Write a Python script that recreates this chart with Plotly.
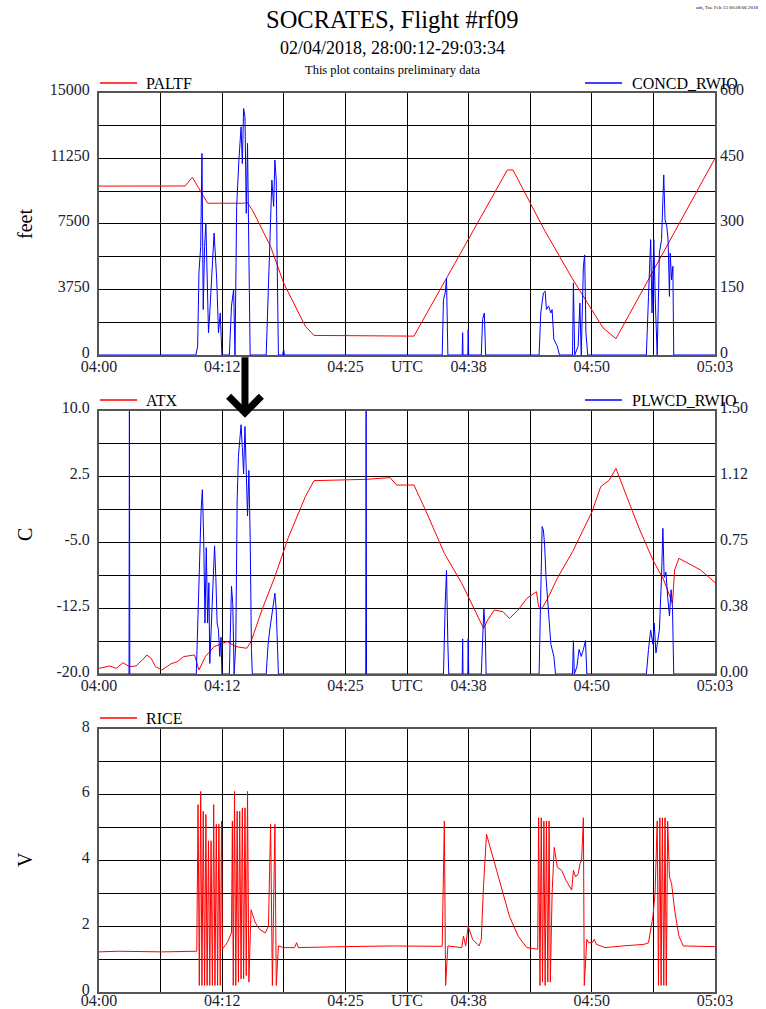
import plotly.graph_objects as go

# ---------------- data (time in minutes after 04:00 UTC) ----------------
paltf_t = [0, 8.80, 9.55, 11.11, 14.88, 15.11, 15.77, 17.55, 18.88, 21.10, 21.99,
           32.21, 41.76, 42.34, 45.54, 48.43, 51.54, 52.87, 63.0]
paltf_v = [9660, 9665, 10160, 8680, 8680, 8770, 8200, 6210, 4120, 1650, 1120,
           1080, 10580, 10580, 7160, 4350, 1560, 930, 11250]

concd_t = [0, 9.91, 10.09, 10.22, 10.40, 10.53, 10.66, 10.80, 10.93, 11.06, 11.20, 11.33,
           11.55, 11.77, 11.91, 12.04, 12.22, 12.40, 12.57, 13.33, 13.55, 13.77, 13.91,
           14.08, 14.31, 14.53, 14.66, 14.79, 14.93, 15.06, 15.19, 15.33, 15.46,
           17.10, 17.33, 17.55, 17.68, 17.86, 17.99, 18.13, 18.22, 18.35, 18.79, 18.88, 18.97,
           35.10, 35.23, 35.41, 35.54, 35.68, 37.14, 37.19, 37.23, 37.72, 37.76, 37.81,
           39.10, 39.23, 39.41, 39.54,
           45.01, 45.18, 45.45, 45.63, 45.76, 45.98, 46.21, 46.34, 46.52, 46.87, 47.09,
           48.43, 48.52, 48.65, 49.00, 49.18, 49.32, 49.54, 49.67, 49.80, 49.98,
           55.98, 56.20, 56.42, 56.56, 56.74, 56.91, 57.09, 57.31, 57.53, 57.76, 57.89,
           58.07, 58.20, 58.34, 58.42, 58.56, 58.69, 58.78, 63.0]
concd_v = [0, 0, 20, 188, 248, 461, 104, 248, 302, 172, 51, 96,
           203, 279, 226, 172, 51, 96, 0, 0, 112, 150, 0,
           340, 446, 522, 438, 564, 545, 324, 484, 248, 0,
           0, 188, 309, 400, 340, 446, 400, 218, 0, 0, 14, 0,
           0, 127, 142, 176, 0, 0, 51, 0, 0, 58, 0,
           0, 81, 96, 0,
           0, 96, 142, 146, 104, 112, 96, 104, 36, 20, 0,
           0, 165, 0, 20, 119, 0, 203, 229, 51, 0,
           0, 134, 264, 96, 264, 112, 0, 233, 264, 412, 309,
           294, 264, 134, 233, 172, 203, 0, 0]

atx_t = [0, 1.11, 1.78, 2.44, 3.11, 3.78, 4.44, 4.89, 5.33, 5.78, 6.44, 7.33, 8.00, 8.66,
         9.77, 10.22, 10.88, 11.77, 13.11, 13.99, 15.11, 15.55, 16.66, 17.99, 19.33, 21.10,
         21.99, 24.66, 27.32, 29.77, 30.44, 32.21, 33.54, 35.32, 37.10, 38.43, 39.32, 39.76,
         40.43, 41.32, 41.98, 42.87, 43.76, 44.74, 44.96, 45.32, 45.98, 46.87, 48.43, 50.43,
         51.31, 52.20, 52.87, 53.98, 55.31, 56.65, 57.76, 58.65, 58.87, 59.31, 60.20, 61.53, 63.0]
atx_v = [-19.35, -19.09, -19.35, -18.71, -19.16, -19.09, -18.40, -17.83, -18.21, -19.16, -19.54,
         -18.86, -18.59, -18.02, -17.83, -19.54, -18.02, -16.88, -16.31, -16.88, -17.07, -16.31,
         -12.71, -8.91, -4.54, 0.20, 2.03, 2.10, 2.18, 2.37, 1.53, 1.53, -1.69, -6.25, -9.67,
         -12.71, -14.79, -13.85, -12.71, -12.90, -13.66, -12.71, -11.38, -10.62, -12.33, -12.52,
         -11.19, -9.10, -6.06, -1.50, 1.34, 2.10, 3.43, 0.20, -3.59, -7.01, -9.29, -11.95,
         -8.15, -6.82, -7.39, -8.15, -9.59]

plwcd_t = [0, 3.07, 3.11, 3.15, 9.95, 10.22, 10.44, 10.57, 10.71, 10.84, 10.97, 11.11, 11.24,
           11.33, 11.55, 11.68, 11.82, 11.95, 12.08, 12.22, 12.35, 12.48, 12.57, 13.33, 13.55,
           13.68, 13.82, 13.99, 14.13, 14.26, 14.39, 14.53, 14.66, 14.79, 14.93, 15.06, 15.19,
           15.33, 15.46, 15.59, 15.68, 17.10, 17.28, 17.46, 17.64, 17.82, 17.99, 18.13, 18.22,
           18.35, 27.28, 27.32, 27.36, 35.23, 35.41, 35.54, 35.68, 35.77, 37.15, 37.19, 37.23,
           37.72, 37.76, 37.81, 39.10, 39.23, 39.36, 39.50, 39.59, 45.01, 45.18, 45.32, 45.45,
           45.58, 45.72, 45.85, 45.98, 46.21, 46.52, 46.69, 48.43, 48.52, 48.61, 48.87, 49.10,
           49.32, 49.54, 49.76, 49.89, 55.98, 56.20, 56.42, 56.65, 56.78, 56.96, 57.09, 57.31,
           57.53, 57.67, 57.80, 57.98, 58.16, 58.34, 58.51, 58.65, 58.78, 63.0]
plwcd_v = [0, 0, 1.6, 0, 0, 0.60, 0.93, 1.05, 0.76, 0.29, 0.72, 0.29, 0.52,
           0.06, 0.38, 0.55, 0.73, 0.55, 0.29, 0.25, 0.10, 0.21, 0, 0, 0.50,
           0.40, 0, 0.17, 0.99, 1.24, 1.34, 1.42, 1.29, 1.14, 1.41, 1.12, 0.90,
           1.16, 0.78, 0.14, 0, 0, 0.16, 0.25, 0.33, 0.38, 0.46, 0.36, 0.14,
           0, 0, 1.6, 0, 0, 0.40, 0.59, 0.17, 0, 0, 0.20, 0,
           0, 0.20, 0, 0, 0.17, 0.37, 0.25, 0, 0, 0.40, 0.84, 0.82,
           0.73, 0.55, 0.44, 0.36, 0.17, 0.10, 0, 0, 0.19, 0, 0.04, 0.14,
           0.10, 0.14, 0.19, 0, 0, 0.14, 0.25, 0.17, 0.29, 0.12, 0.16, 0.25,
           0.55, 0.83, 0.55, 0.58, 0.44, 0.33, 0.48, 0.38, 0, 0]

rice_t = [0, 2.0, 6.5, 10.0, 10.13, 10.26, 10.40, 10.53, 10.66, 10.80, 10.93, 11.06, 11.20,
          11.33, 11.46, 11.60, 11.73, 11.86, 12.00, 12.13, 12.26, 12.40, 12.53, 12.62, 13.11,
          13.55, 13.64, 13.73, 13.86, 13.99, 14.13, 14.26, 14.39, 14.53, 14.66, 14.79, 14.93,
          15.06, 15.19, 15.33, 15.55, 16.0, 16.44, 17.0, 17.33, 17.55, 17.73, 17.99, 18.13,
          18.35, 18.88, 20.0, 20.21, 20.39, 25.0, 30.0, 35.10, 35.32, 35.45, 35.68, 37.10,
          37.28, 37.50, 37.76, 38.21, 38.88, 39.10, 39.32, 39.63, 40.21, 41.10, 41.98, 42.87,
          43.76, 44.87, 44.96, 45.10, 45.23, 45.36, 45.50, 45.63, 45.76, 45.90, 46.03, 46.16,
          46.34, 46.56, 46.87, 47.32, 47.76, 48.34, 48.52, 48.74, 49.01, 49.19, 49.36, 49.54,
          49.63, 49.89, 50.07, 50.43, 50.65, 50.87, 51.76, 53.54, 55.76, 56.20, 56.65, 56.87,
          57.09, 57.22, 57.36, 57.49, 57.62, 57.76, 57.89, 58.02, 58.16, 58.34, 58.56, 58.87,
          59.31, 59.76, 63.0]
rice_v = [1.22, 1.24, 1.22, 1.24, 5.7, 0.2, 6.1, 0.2, 5.5, 0.2, 5.4, 0.2, 4.6,
          0.2, 4.6, 0.2, 5.7, 0.2, 5.1, 0.2, 5.1, 0.2, 5.2, 1.3, 1.5,
          1.8, 5.2, 0.2, 6.1, 0.2, 5.5, 0.3, 5.5, 0.4, 5.6, 0.4, 5.6,
          0.5, 6.1, 0.3, 2.5, 2.1, 1.9, 1.8, 2.0, 5.1, 0.2, 5.1, 0.2,
          1.4, 1.35, 1.35, 1.5, 1.35, 1.38, 1.4, 1.39, 5.2, 0.2, 1.4, 1.35,
          1.7, 1.4, 2.0, 1.6, 1.4, 1.6, 3.2, 4.8, 4.2, 3.2, 2.3, 1.7,
          1.35, 1.3, 5.3, 0.2, 5.3, 0.3, 5.2, 0.2, 5.2, 0.3, 5.2, 0.3,
          3.0, 4.4, 3.8, 3.7, 3.4, 3.1, 3.7, 3.5, 3.6, 3.9, 4.0, 5.3,
          0.2, 1.6, 1.5, 1.5, 1.6, 1.45, 1.35, 1.4, 1.45, 1.5, 2.3, 3.0,
          5.2, 0.2, 5.3, 0.2, 5.3, 0.2, 5.3, 0.2, 5.2, 3.5, 3.3, 2.5,
          1.7, 1.4, 1.38]

# ---------------- axis ticks ----------------
x_tickvals = [0, 6.3, 12.6, 18.9, 25.2, 31.5, 37.8, 44.1, 50.4, 56.7, 63.0]
x_ticktext = ["04:00", "", "04:12", "", "04:25", "UTC", "04:38", "", "04:50", "", "05:03"]

paltf_ticks = [0, 1875, 3750, 5625, 7500, 9375, 11250, 13125, 15000]
paltf_text = ["0", "", "3750", "", "7500", "", "11250", "", "15000"]
concd_ticks = [0, 75, 150, 225, 300, 375, 450, 525, 600]
concd_text = ["0", "", "150", "", "300", "", "450", "", "600"]
atx_ticks = [-20, -16.25, -12.5, -8.75, -5, -1.25, 2.5, 6.25, 10]
atx_text = ["-20.0", "", "-12.5", "", "-5.0", "", "2.5", "", "10.0"]
plwcd_ticks = [0, 0.1875, 0.375, 0.5625, 0.75, 0.9375, 1.125, 1.3125, 1.5]
plwcd_text = ["0.00", "", "0.38", "", "0.75", "", "1.12", "", "1.50"]
rice_ticks = [0, 1, 2, 3, 4, 5, 6, 7, 8]
rice_text = ["0", "", "2", "", "4", "", "6", "", "8"]

W, H = 766, 1009
FONT = "Liberation Serif"
RED = "#ff0000"
BLUE = "#0000ff"


def px(x):
    return x / W


def py(y):
    return 1 - y / H


XDOM = [px(99), px(715)]
DOM1 = [py(355), py(92.7)]
DOM2 = [py(674), py(410.7)]
DOM3 = [py(992), py(729)]

fig = go.Figure()
fig.add_trace(go.Scatter(x=paltf_t, y=paltf_v, mode="lines", line=dict(color=RED, width=1),
                         xaxis="x", yaxis="y"))
fig.add_trace(go.Scatter(x=concd_t, y=concd_v, mode="lines", line=dict(color=BLUE, width=1),
                         xaxis="x", yaxis="y4"))
fig.add_trace(go.Scatter(x=atx_t, y=atx_v, mode="lines", line=dict(color=RED, width=1),
                         xaxis="x2", yaxis="y2"))
fig.add_trace(go.Scatter(x=plwcd_t, y=plwcd_v, mode="lines", line=dict(color=BLUE, width=1),
                         xaxis="x2", yaxis="y5"))
fig.add_trace(go.Scatter(x=rice_t, y=rice_v, mode="lines", line=dict(color=RED, width=1),
                         xaxis="x3", yaxis="y3"))

tickfont = dict(family=FONT, size=16, color="#222233")
common_x = dict(domain=XDOM, range=[0, 63], tickvals=x_tickvals, ticktext=x_ticktext,
                showgrid=True, gridcolor="black", gridwidth=1, zeroline=False,
                showline=True, mirror=True, linecolor="#555555", linewidth=2,
                ticks="", tickfont=tickfont, ticklabelstandoff=-4, fixedrange=True,
                automargin=False)
common_y = dict(showgrid=True, gridcolor="black", gridwidth=1, zeroline=False,
                showline=True, mirror=True, linecolor="#555555", linewidth=2,
                ticks="", tickfont=tickfont, ticklabelstandoff=4, ticklabelshift=-3,
                automargin=False)
right_y = dict(showgrid=False, zeroline=False, showline=False, side="right", ticks="",
               tickfont=tickfont, ticklabelstandoff=4, ticklabelshift=-3, automargin=False)

fig.update_layout(
    template="none",
    width=W, height=H, margin=dict(l=0, r=0, t=0, b=0, pad=0),
    paper_bgcolor="white", plot_bgcolor="white", showlegend=False,
    xaxis=dict(common_x, anchor="y"),
    xaxis2=dict(common_x, anchor="y2"),
    xaxis3=dict(common_x, anchor="y3", ticklabelstandoff=-7),
    yaxis=dict(common_y, domain=DOM1, range=[0, 15000], tickvals=paltf_ticks,
               ticktext=paltf_text, anchor="x"),
    yaxis2=dict(common_y, domain=DOM2, range=[-20, 10], tickvals=atx_ticks,
                ticktext=atx_text, anchor="x2"),
    yaxis3=dict(common_y, domain=DOM3, range=[0, 8], tickvals=rice_ticks,
                ticktext=rice_text, anchor="x3"),
    yaxis4=dict(right_y, overlaying="y", anchor="x", range=[0, 600],
                tickvals=concd_ticks, ticktext=concd_text),
    yaxis5=dict(right_y, overlaying="y2", anchor="x2", range=[0, 1.5],
                tickvals=plwcd_ticks, ticktext=plwcd_text),
)

ann = []
shapes = []


def text(x, y, s, size, xanchor="center", angle=0, color="black"):
    ann.append(dict(x=px(x), y=py(y), xref="paper", yref="paper", text=s, showarrow=False,
                    xanchor=xanchor, yanchor="middle", textangle=angle,
                    font=dict(family=FONT, size=size, color=color)))


text(393, 20, "SOCRATES, Flight #rf09", 24.5)
text(393, 48, "02/04/2018, 28:00:12-29:03:34", 18)
text(393, 70, "This plot contains preliminary data", 12.5)
text(760, 8, "ads, Tue Feb 13 00:28:06 2018", 5, xanchor="right")

# axis titles
text(25, 224, "feet", 20, angle=-90)
text(25, 535, "C", 20, angle=-90)
text(25, 860, "V", 20, angle=-90)


def legend(x_line0, x_text, y, label, color):
    shapes.append(dict(type="line", xref="paper", yref="paper", x0=px(x_line0),
                       x1=px(x_line0 + 37), y0=py(y), y1=py(y),
                       line=dict(color=color, width=1.5)))
    text(x_text, y, label, 16, xanchor="left")


legend(100, 144, 83, "PALTF", RED)
legend(585, 630, 83, "CONCD_RWIO", BLUE)
legend(100, 144, 400, "ATX", RED)
legend(585, 630, 400, "PLWCD_RWIO", BLUE)
legend(100, 144, 718, "RICE", RED)

# arrow pointing at the PLWCD peak
ann.append(dict(x=14.93, y=9.2, xref="x2", yref="y2", ax=0, ay=-62, showarrow=True,
                arrowhead=4, arrowsize=0.9, arrowwidth=7, arrowcolor="black", text=""))

fig.update_layout(annotations=ann, shapes=shapes)
fig.write_html("out.html", config={"displayModeBar": False})
